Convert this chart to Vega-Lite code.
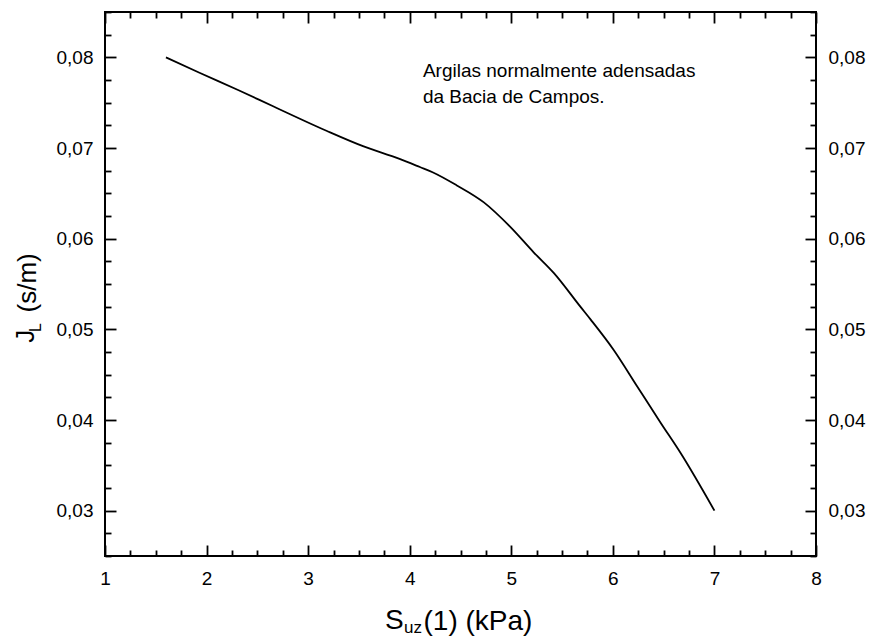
{
  "$schema": "https://vega.github.io/schema/vega-lite/v6.json",
  "width": 711,
  "height": 544,
  "autosize": "none",
  "padding": {"left": 105, "top": 12, "right": 59, "bottom": 83},
  "background": "white",
  "config": {
    "view": {"stroke": "black", "strokeWidth": 2},
    "axis": {"grid": false, "domain": false, "labelFont": "Liberation Sans", "titleFont": "Liberation Sans", "labelColor": "black", "titleColor": "black", "tickColor": "black", "titleFontWeight": "normal", "labelFlush": false, "labelOverlap": false},
    "text": {"font": "Liberation Sans", "color": "black"}
  },
  "datasets": {
    "curve": [
      {"S": 1.6, "J": 0.0800},
      {"S": 1.93, "J": 0.0783},
      {"S": 2.31, "J": 0.0764},
      {"S": 2.655, "J": 0.0746},
      {"S": 3.18, "J": 0.0719},
      {"S": 3.54, "J": 0.0702},
      {"S": 3.9, "J": 0.0688},
      {"S": 4.1, "J": 0.0679},
      {"S": 4.23, "J": 0.0673},
      {"S": 4.46, "J": 0.0659},
      {"S": 4.73, "J": 0.0640},
      {"S": 4.99, "J": 0.0613},
      {"S": 5.22, "J": 0.0585},
      {"S": 5.42, "J": 0.0562},
      {"S": 5.68, "J": 0.0525},
      {"S": 5.78, "J": 0.0511},
      {"S": 6.01, "J": 0.0477},
      {"S": 6.24, "J": 0.0437},
      {"S": 6.47, "J": 0.0397},
      {"S": 6.67, "J": 0.0363},
      {"S": 7.0, "J": 0.0300}
    ],
    "one": [{"k": 1}]
  },
  "layer": [
    {
      "data": {"name": "curve"},
      "mark": {"type": "line", "color": "black", "strokeWidth": 1.8, "interpolate": "monotone"},
      "encoding": {
        "x": {"field": "S", "type": "quantitative", "scale": {"domain": [1, 8], "nice": false, "zero": false},
          "axis": {"orient": "bottom", "values": [1, 2, 3, 4, 5, 6, 7, 8], "ticks": false, "tickSize": 0, "labelFontSize": 19, "labelPadding": 13,
            "title": "(1) (kPa)", "titleFontSize": 28, "titleBaseline": "alphabetic", "titleAlign": "left", "titleX": 318, "titleY": 73}},
        "y": {"field": "J", "type": "quantitative", "scale": {"domain": [0.025, 0.085], "nice": false, "zero": false},
          "axis": {"orient": "left", "values": [0.03, 0.04, 0.05, 0.06, 0.07, 0.08], "ticks": false, "tickSize": 0, "labelFontSize": 19, "labelPadding": 12,
            "labelExpr": "replace(format(datum.value, '.2f'), '.', ',')",
            "title": "(s/m)", "titleFontSize": 26, "titleBaseline": "alphabetic", "titleAngle": 270, "titleX": -70, "titleY": 300, "titleAlign": "left"}}
      }
    },
    {
      "data": {"name": "curve"},
      "mark": {"type": "line", "opacity": 0},
      "encoding": {
        "x": {"field": "S", "type": "quantitative", "scale": {"domain": [1, 8], "nice": false, "zero": false},
          "axis": {"orient": "bottom", "values": [1, 1.25, 1.5, 1.75, 2, 2.25, 2.5, 2.75, 3, 3.25, 3.5, 3.75, 4, 4.25, 4.5, 4.75, 5, 5.25, 5.5, 5.75, 6, 6.25, 6.5, 6.75, 7, 7.25, 7.5, 7.75, 8],
            "labels": false, "title": null, "tickWidth": 1.8,
            "tickSize": {"condition": {"test": "datum.value % 1 === 0", "value": -11}, "value": -6}}},
        "y": {"field": "J", "type": "quantitative", "scale": {"domain": [0.025, 0.085], "nice": false, "zero": false},
          "axis": {"orient": "left", "values": [0.025, 0.0275, 0.03, 0.0325, 0.035, 0.0375, 0.04, 0.0425, 0.045, 0.0475, 0.05, 0.0525, 0.055, 0.0575, 0.06, 0.0625, 0.065, 0.0675, 0.07, 0.0725, 0.075, 0.0775, 0.08, 0.0825, 0.085],
            "labels": false, "title": null, "tickWidth": 1.8,
            "tickSize": {"condition": {"test": "abs(datum.value * 100 - round(datum.value * 100)) < 0.001", "value": -11}, "value": -6}}}
      }
    },
    {
      "data": {"name": "curve"},
      "mark": {"type": "line", "opacity": 0},
      "encoding": {
        "x": {"field": "S", "type": "quantitative", "scale": {"domain": [1, 8], "nice": false, "zero": false},
          "axis": {"orient": "top", "values": [1, 1.25, 1.5, 1.75, 2, 2.25, 2.5, 2.75, 3, 3.25, 3.5, 3.75, 4, 4.25, 4.5, 4.75, 5, 5.25, 5.5, 5.75, 6, 6.25, 6.5, 6.75, 7, 7.25, 7.5, 7.75, 8],
            "labels": false, "title": null, "tickWidth": 1.8,
            "tickSize": {"condition": {"test": "datum.value % 1 === 0", "value": -11}, "value": -6}}},
        "y": {"field": "J", "type": "quantitative", "scale": {"domain": [0.025, 0.085], "nice": false, "zero": false},
          "axis": {"orient": "right", "values": [0.025, 0.0275, 0.03, 0.0325, 0.035, 0.0375, 0.04, 0.0425, 0.045, 0.0475, 0.05, 0.0525, 0.055, 0.0575, 0.06, 0.0625, 0.065, 0.0675, 0.07, 0.0725, 0.075, 0.0775, 0.08, 0.0825, 0.085],
            "labels": false, "title": null, "tickWidth": 1.8,
            "tickSize": {"condition": {"test": "abs(datum.value * 100 - round(datum.value * 100)) < 0.001", "value": -11}, "value": -6}}}
      }
    },
    {
      "data": {"name": "curve"},
      "mark": {"type": "line", "opacity": 0},
      "encoding": {
        "x": {"field": "S", "type": "quantitative", "scale": {"domain": [1, 8], "nice": false, "zero": false}, "axis": null},
        "y": {"field": "J", "type": "quantitative", "scale": {"domain": [0.025, 0.085], "nice": false, "zero": false},
          "axis": {"orient": "right", "values": [0.03, 0.04, 0.05, 0.06, 0.07, 0.08], "ticks": false, "tickSize": 0, "labelFontSize": 19, "labelPadding": 12,
            "labelExpr": "replace(format(datum.value, '.2f'), '.', ',')", "title": null}}
      }
    },
    {
      "data": {"name": "one"},
      "mark": {"type": "text", "align": "left", "baseline": "alphabetic", "fontSize": 19, "lineHeight": 26},
      "encoding": {
        "x": {"datum": 4.13, "scale": {"domain": [1, 8], "nice": false, "zero": false}, "axis": null},
        "y": {"datum": 0.0778, "scale": {"domain": [0.025, 0.085], "nice": false, "zero": false}, "axis": null},
        "text": {"value": ["Argilas normalmente adensadas", "da Bacia de Campos."]}
      }
    },
    {
      "data": {"name": "one"},
      "mark": {"type": "text", "align": "left", "baseline": "alphabetic", "fontSize": 28},
      "encoding": {
        "x": {"datum": 3.756, "scale": {"domain": [1, 8], "nice": false, "zero": false}, "axis": null},
        "y": {"datum": 0.01697, "scale": {"domain": [0.025, 0.085], "nice": false, "zero": false}, "axis": null},
        "text": {"value": "S"}
      }
    },
    {
      "data": {"name": "one"},
      "mark": {"type": "text", "align": "left", "baseline": "alphabetic", "fontSize": 17},
      "encoding": {
        "x": {"datum": 3.944, "scale": {"domain": [1, 8], "nice": false, "zero": false}, "axis": null},
        "y": {"datum": 0.01653, "scale": {"domain": [0.025, 0.085], "nice": false, "zero": false}, "axis": null},
        "text": {"value": "uz"}
      }
    },
    {
      "data": {"name": "one"},
      "mark": {"type": "text", "align": "left", "baseline": "alphabetic", "fontSize": 26, "angle": 270},
      "encoding": {
        "x": {"datum": 0.3047, "scale": {"domain": [1, 8], "nice": false, "zero": false}, "axis": null},
        "y": {"datum": 0.04851, "scale": {"domain": [0.025, 0.085], "nice": false, "zero": false}, "axis": null},
        "text": {"value": "J"}
      }
    },
    {
      "data": {"name": "one"},
      "mark": {"type": "text", "align": "left", "baseline": "alphabetic", "fontSize": 16, "angle": 270},
      "encoding": {
        "x": {"datum": 0.374, "scale": {"domain": [1, 8], "nice": false, "zero": false}, "axis": null},
        "y": {"datum": 0.0497, "scale": {"domain": [0.025, 0.085], "nice": false, "zero": false}, "axis": null},
        "text": {"value": "L"}
      }
    }
  ],
  "resolve": {"axis": {"x": "independent", "y": "independent"}}
}
